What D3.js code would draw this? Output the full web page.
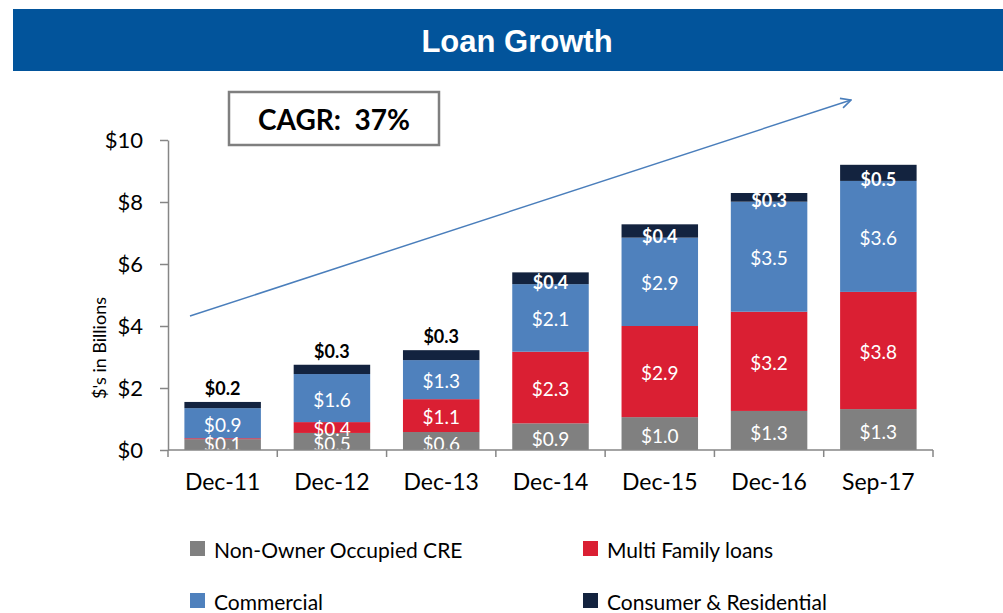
<!DOCTYPE html>
<meta charset="utf-8">
<style>
  body { margin: 0; background: #fff; }
  svg text { font-family: Lato, "Open Sans", sans-serif; }
  .axis path, .axis line { stroke: #868686; stroke-width: 1.5px; }
</style>
<svg width="1003" height="613"></svg>
<script src="https://d3js.org/d3.v7.min.js"></script>
<script>
// ====================================================================
const periods = ["Dec-11", "Dec-12", "Dec-13", "Dec-14", "Dec-15", "Dec-16", "Sep-17"]
const seriesNames = ["Non-Owner Occupied CRE", "Multi Family loans", "Commercial", "Consumer & Residential"]
const seriesColors = ["#808080", "#da1f33", "#4f81bd", "#13233f"]

// segment heights as drawn in the picture ($ billions)
const creVals      = [0.35, 0.55, 0.58, 0.86, 1.06, 1.26, 1.32]
const multiVals    = [0.03, 0.35, 1.06, 2.31, 2.94, 3.20, 3.78]
const commVals     = [0.97, 1.55, 1.26, 2.18, 2.85, 3.55, 3.58]
const consumerVals = [0.20, 0.30, 0.32, 0.38, 0.43, 0.28, 0.52]

// data labels printed on the chart
const creLabels      = ["$0.1", "$0.5", "$0.6", "$0.9", "$1.0", "$1.3", "$1.3"]
const multiLabels    = ["", "$0.4", "$1.1", "$2.3", "$2.9", "$3.2", "$3.8"]
const commLabels     = ["$0.9", "$1.6", "$1.3", "$2.1", "$2.9", "$3.5", "$3.6"]
const consumerLabels = ["$0.2", "$0.3", "$0.3", "$0.4", "$0.4", "$0.3", "$0.5"]

const yTicks = [0, 2, 4, 6, 8, 10]

// ====================================================================
const svg = d3.select("svg")

// title bar
svg.append("rect").attr("x", 13).attr("y", 9).attr("width", 990).attr("height", 62).attr("fill", "#02549b")
svg.append("text").attr("x", 517).attr("y", 41)
    .attr("text-anchor", "middle").attr("dominant-baseline", "central")
    .style("font-family", "'Liberation Sans', Arial, sans-serif")
    .style("font-weight", "bold").style("font-size", "31px").attr("fill", "#fff")
    .text("Loan Growth")

const x = d3.scaleBand().domain(periods).range([168, 933]).paddingInner(0.3).paddingOuter(0.15)
const y = d3.scaleLinear().domain([0, 10]).range([450, 140])

const rows = periods.map((p, i) => ({
    period: p,
    cre: creVals[i], multi: multiVals[i], comm: commVals[i], consumer: consumerVals[i],
    labels: [creLabels[i], multiLabels[i], commLabels[i], consumerLabels[i]]
}))
const keys = ["cre", "multi", "comm", "consumer"]
const stacked = d3.stack().keys(keys)(rows)

// arrow
svg.append("defs").append("marker")
    .attr("id", "arrow").attr("viewBox", "0 0 12 12").attr("refX", 11).attr("refY", 6)
    .attr("markerWidth", 12).attr("markerHeight", 12).attr("markerUnits", "userSpaceOnUse")
    .attr("orient", "auto")
    .append("path").attr("d", "M1,1 L11,6 L1,11").attr("fill", "none")
    .attr("stroke", "#4a7ebb").attr("stroke-width", 1.6)
svg.append("line").attr("x1", 190).attr("y1", 316).attr("x2", 851).attr("y2", 100)
    .attr("stroke", "#4a7ebb").attr("stroke-width", 1.5).attr("marker-end", "url(#arrow)")

// bars
const layer = svg.append("g").selectAll("g")
    .data(stacked).enter().append("g")
    .attr("fill", (d, i) => seriesColors[i])

layer.selectAll("rect").data(d => d).enter().append("rect")
    .attr("x", d => x(d.data.period))
    .attr("width", x.bandwidth())
    .attr("y", d => y(d[1]))
    .attr("height", d => y(d[0]) - y(d[1]))

// labels inside segments
stacked.forEach((s, si) => {
    svg.append("g").selectAll("text").data(s).enter().append("text")
        .attr("x", d => x(d.data.period) + x.bandwidth() / 2)
        .attr("y", d => {
            const top = y(d[1]), bot = y(d[0])
            if (si === 3) {
                // small top segment: outside for early years, on the segment for the rest
                return d[1] < 4 ? top - 14 : bot - 2
            }
            if (si === 0) return Math.min((top + bot) / 2 + 2, 443)
            return (top + bot) / 2 + 1
        })
        .attr("text-anchor", "middle").attr("dominant-baseline", "central")
        .style("font-size", si === 3 ? "18px" : "19px")
        .style("font-weight", si === 3 ? "bold" : "normal")
        .attr("fill", d => (si === 3 && d[1] < 4) ? "#000" : "#fff")
        .text(d => d.data.labels[si])
})

// axes
const yAxis = svg.append("g").attr("class", "axis")
    .attr("transform", "translate(168,0)")
    .call(d3.axisLeft(y).tickValues(yTicks).tickSizeInner(8).tickSizeOuter(0).tickPadding(17)
        .tickFormat(d => "$" + d))
yAxis.selectAll("text").style("font-size", "22px").attr("fill", "#000")
    .style("font-family", "Lato, sans-serif")

const xAxis = svg.append("g").attr("class", "axis")
    .attr("transform", "translate(0,450)")
    .call(d3.axisBottom(x).tickSize(0).tickPadding(24))
xAxis.select(".domain").attr("d", "M168,0H933")
xAxis.selectAll("text").style("font-size", "23px").attr("fill", "#000")
    .style("font-family", "Lato, sans-serif")
// boundary ticks between categories
xAxis.selectAll(".bound").data(d3.range(periods.length + 1)).enter().append("line")
    .attr("class", "bound")
    .attr("x1", i => 168 + i * x.step()).attr("x2", i => 168 + i * x.step())
    .attr("y1", 0).attr("y2", 7)

svg.append("text")
    .attr("transform", "translate(99,348) rotate(-90)")
    .attr("text-anchor", "middle").attr("dominant-baseline", "central")
    .style("font-size", "18px").attr("fill", "#000")
    .text("$'s in Billions")

// CAGR box
svg.append("rect").attr("x", 229).attr("y", 92).attr("width", 210).attr("height", 53)
    .attr("fill", "#fff").attr("stroke", "#7f7f7f").attr("stroke-width", 2.5)
svg.append("text").attr("x", 334).attr("y", 119)
    .attr("text-anchor", "middle").attr("dominant-baseline", "central")
    .style("font-size", "28px").style("font-weight", "bold").attr("fill", "#000")
    .attr("xml:space", "preserve")
    .text("CAGR:  37%")

// legend
const legendPos = [[190, 549], [583, 549], [190, 601], [583, 601]]
const legend = svg.append("g").selectAll("g").data(seriesNames).enter().append("g")
    .attr("transform", (d, i) => `translate(${legendPos[i][0]},${legendPos[i][1]})`)
legend.append("rect").attr("x", 0).attr("y", -8).attr("width", 15).attr("height", 15)
    .attr("fill", (d, i) => seriesColors[i])
legend.append("text").attr("x", 24).attr("y", 0).attr("dominant-baseline", "central")
    .style("font-size", "21px").attr("fill", "#000")
    .text(d => d)
</script>
